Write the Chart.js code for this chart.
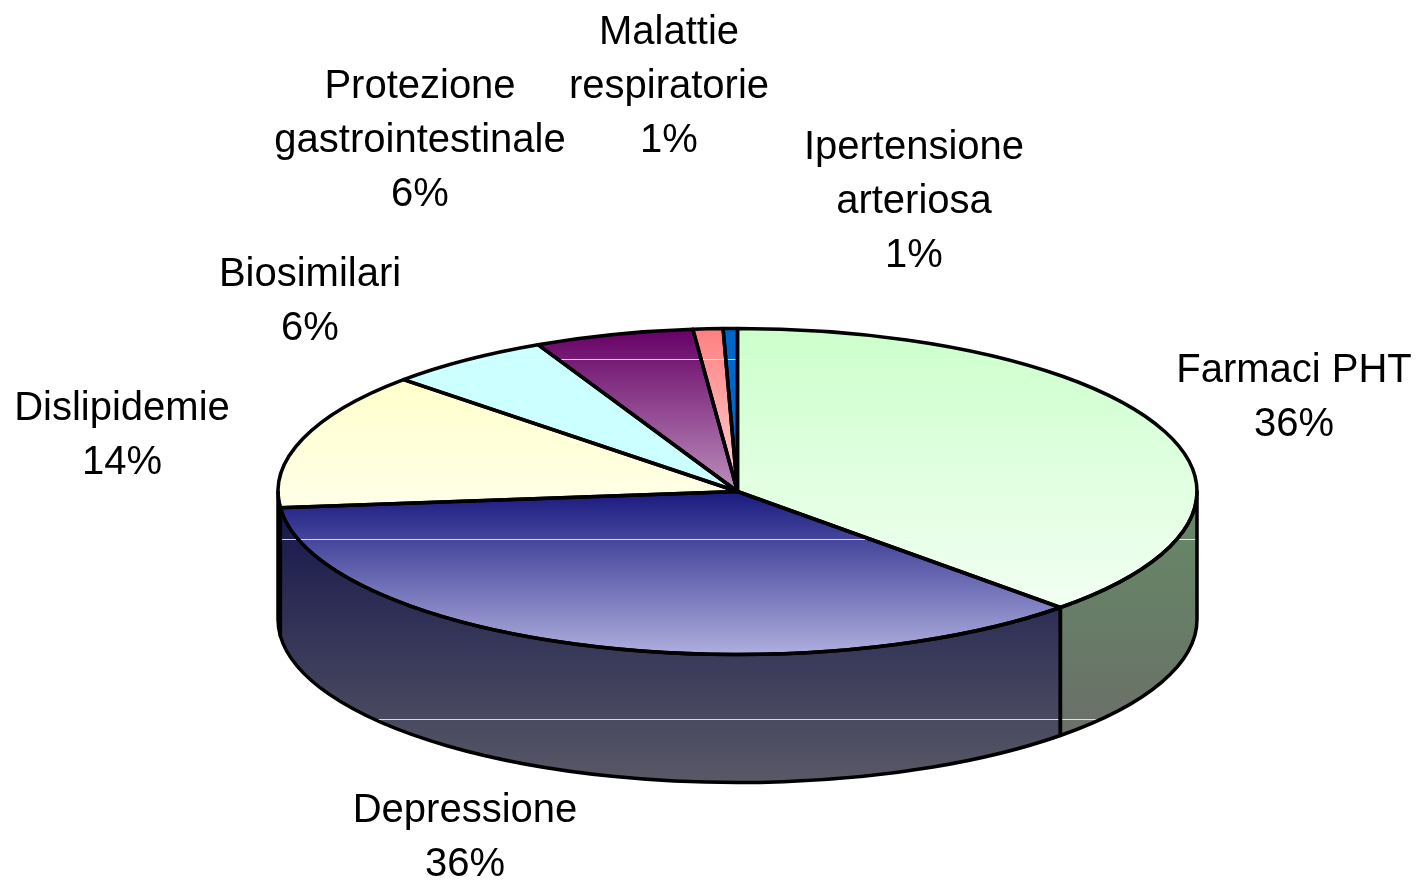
<!DOCTYPE html>
<html>
<head>
<meta charset="utf-8">
<style>
  html, body { margin: 0; background: #fff; }
  canvas { display: block; }
</style>
<script src="https://cdn.jsdelivr.net/npm/chart.js@4"></script>
</head>
<body>
<canvas id="pie-chart" width="1417" height="881"></canvas>
<script>
// Data
const categories = [['Farmaci PHT'], ['Depressione'], ['Dislipidemie'], ['Biosimilari'],
  ['Protezione', 'gastrointestinale'], ['Malattie', 'respiratorie'], ['Ipertensione', 'arteriosa']];
const sliceValues = [37.6, 35.8, 13.65, 5.8, 5.6, 1.05, 0.5];
const percentLabels = ['36%', '36%', '14%', '6%', '6%', '1%', '1%'];

// Look of the slices: [top colour, bottom colour, top y, bottom y] in screen pixels
const topFills = [
  ['#ccffcc', '#f2fff2', 329, 606],
  ['#1a1a80', '#aeaede', 492, 654],
  ['#ffffcc', '#ffffe8', 381, 508],
  ['#ccffff', '#ccffff', 345, 492],
  ['#660066', '#bc90bc', 329, 492],
  ['#ff8080', '#ffd4d4', 329, 492],
  ['#0066cc', '#0066cc', 329, 492]
];
const wallFills = [
  ['#668866', '#6a7068', 510, 735],
  ['#16164c', '#585866', 508, 782],
  ['#000000', '#000000', 475, 633]
];

// Label anchors: centre x, and baseline of the first line
const labelAnchors = [[1294, 382], [465, 822], [122, 420], [310, 286], [420, 98], [669, 44], [914, 159]];
const lineGap = 54;

const pieRadius = 459.5;
const squash = 163 / 459.5;
const wallDepth = 128;
const outline = 3.5;
const glintLines = [359, 539, 719];

function screenGradient(ctx, fill, cy, scaleY) {
  const g = ctx.createLinearGradient(0, cy + (fill[2] - cy) / scaleY, 0, cy + (fill[3] - cy) / scaleY);
  g.addColorStop(0, fill[0]);
  g.addColorStop(1, fill[1]);
  return g;
}

// Path of the visible front side of one slice
function wallPath(ctx, arc) {
  const from = Math.max(arc.startAngle, 0);
  const to = Math.min(arc.endAngle, Math.PI);
  if (to <= from) return false;
  const ry = pieRadius * squash;
  ctx.beginPath();
  ctx.ellipse(arc.x, arc.y, pieRadius, ry, 0, from, to);
  ctx.ellipse(arc.x, arc.y + wallDepth, pieRadius, ry, 0, to, from, true);
  ctx.closePath();
  return true;
}

// Tilts the flat pie, adds the side wall and the outlines
const tiltPlugin = {
  id: 'tilt',
  beforeDatasetsDraw(chart) {
    const ctx = chart.ctx;
    const arcs = chart.getDatasetMeta(0).data;

    arcs.forEach((arc, i) => {
      if (!wallFills[i] || !wallPath(ctx, arc)) return;
      const g = ctx.createLinearGradient(0, wallFills[i][2], 0, wallFills[i][3]);
      g.addColorStop(0, wallFills[i][0]);
      g.addColorStop(1, wallFills[i][1]);
      ctx.fillStyle = g;
      ctx.fill();
    });

    ctx.save();
    ctx.translate(0, arcs[0].y);
    ctx.scale(1, squash);
    ctx.translate(0, -arcs[0].y);
  },
  afterDatasetsDraw(chart) {
    const ctx = chart.ctx;
    ctx.restore();
    const arcs = chart.getDatasetMeta(0).data;

    // thin white lines run across the shape only, under the outlines
    ctx.save();
    ctx.globalCompositeOperation = 'source-atop';
    ctx.fillStyle = 'rgba(255,255,255,0.8)';
    glintLines.forEach(y => ctx.fillRect(0, y, chart.width, 1));
    ctx.restore();

    ctx.save();
    ctx.lineWidth = outline;
    ctx.lineJoin = 'round';
    ctx.strokeStyle = '#000';
    arcs.forEach((arc, i) => {
      if (wallFills[i] && wallPath(ctx, arc)) ctx.stroke();
    });
    arcs.forEach(arc => {
      ctx.beginPath();
      ctx.moveTo(arc.x, arc.y);
      ctx.ellipse(arc.x, arc.y, pieRadius, pieRadius * squash, 0, arc.startAngle, arc.endAngle);
      ctx.closePath();
      ctx.stroke();
    });
    ctx.restore();
  },
  afterDraw(chart) {
    const ctx = chart.ctx;
    ctx.save();
    ctx.fillStyle = '#000';
    ctx.font = '40px "Liberation Sans"';
    ctx.textAlign = 'center';
    ctx.textBaseline = 'alphabetic';
    categories.forEach((lines, i) => {
      const [x, y] = labelAnchors[i];
      lines.concat(percentLabels[i]).forEach((line, n) => ctx.fillText(line, x, y + n * lineGap));
    });
    ctx.restore();
  }
};

const canvas = document.getElementById('pie-chart');
const pieChart = new Chart(canvas.getContext('2d'), {
  type: 'pie',
  data: {
    labels: categories,
    datasets: [{
      data: sliceValues,
      clip: false,
      borderWidth: 0,
      backgroundColor: c => screenGradient(c.chart.ctx, topFills[c.dataIndex], 491.5, squash)
    }]
  },
  options: {
    responsive: false,
    animation: false,
    radius: pieRadius,
    layout: { padding: { left: 58, top: 102 } },
    plugins: { legend: { display: false }, tooltip: { enabled: false } }
  },
  plugins: [tiltPlugin]
});
</script>
</body>
</html>
